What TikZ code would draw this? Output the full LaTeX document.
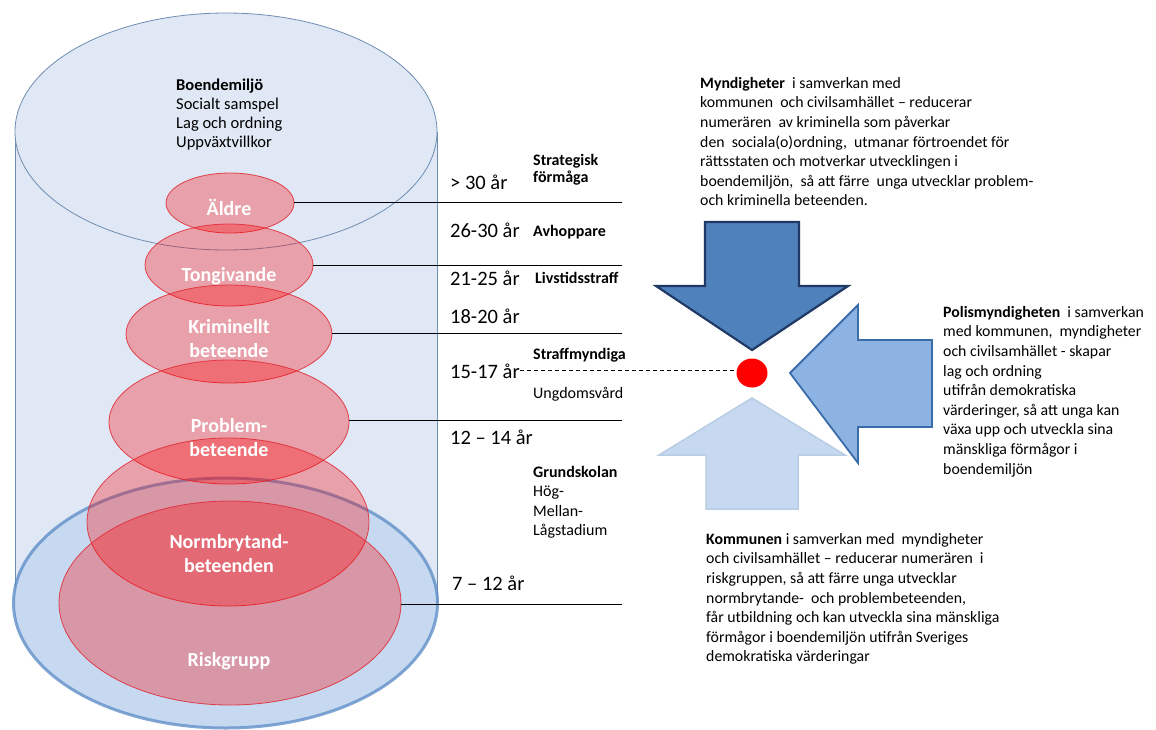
\documentclass[tikz,border=0pt]{standalone}
\usepackage{fontspec}
\setmainfont{Carlito}
\usetikzlibrary{shapes.geometric}
\definecolor{cylfill}{HTML}{DFE8F4}
\definecolor{cyledge}{HTML}{6F8DB2}
\definecolor{botfill}{HTML}{C6D9F0}
\definecolor{botedge}{HTML}{5A8AC6}
\definecolor{rededge}{HTML}{E0303C}
\definecolor{darkarrow}{HTML}{4F81BD}
\definecolor{darkarrowedge}{HTML}{1F3864}
\definecolor{midarrow}{HTML}{8DB3E2}
\definecolor{midarrowedge}{HTML}{3A6BAA}
\definecolor{lightarrow}{HTML}{C6D9F1}
\definecolor{lightarrowedge}{HTML}{B8CCE4}
\begin{document}
\begin{tikzpicture}[x=1pt,y=-1pt,
  redell/.style={ellipse, inner sep=0pt, fill=red, fill opacity=0.3, draw=rededge, draw opacity=0.9, line width=0.8pt},
  redlbl/.style={anchor=north, inner sep=0pt, align=center, text=white, font=\bfseries\fontsize{20}{24}\selectfont},
  agelbl/.style={anchor=base west, inner sep=0pt, font=\fontsize{20.5}{22}\selectfont},
  sidelbl/.style={anchor=north west, inner sep=0pt, align=left, font=\fontsize{16}{17}\selectfont},
  para/.style={anchor=north west, inner sep=0pt, align=left, font=\fontsize{15.8}{19.6}\selectfont},
  conn/.style={black, line width=0.9pt},
  dconn/.style={black, line width=0.9pt, dash pattern=on 4pt off 3pt},
  bigarrow/.style={line join=miter}
]
\useasboundingbox (0,0) rectangle (1156,729);
\fill[white] (0,0) rectangle (1156,729);

% cylinder
\fill[cylfill] (15,131.5) rectangle (437,603);
\draw[cyledge, line width=0.9pt] (15,131.5) -- (15,603) (437,131.5) -- (437,603);
\filldraw[fill=botfill, draw=botedge, line width=3pt, draw opacity=0.75] (225.5,603) ellipse [x radius=212pt, y radius=125pt];
\filldraw[fill=cylfill, draw=cyledge, line width=0.8pt] (226,131.5) ellipse [x radius=211pt, y radius=118.5pt];

\node[para, font=\fontsize{16.5}{19}\selectfont] (boende) at (176,78) {\rule{0pt}{12pt}\textbf{Boendemiljö}\\Socialt samspel\\Lag och ordning\\Uppväxtvillkor};

% red ellipses
\node[redell, minimum width=128pt, minimum height=60pt] (aldre) at (230,203) {};
\node[redell, minimum width=168pt, minimum height=82pt] (tong) at (229,265) {};
\node[redell, minimum width=206pt, minimum height=98pt] (krim) at (229,334) {};
\node[redell, minimum width=240pt, minimum height=124pt] (probl) at (229,422) {};
\node[redell, minimum width=282pt, minimum height=168pt] (norm) at (228,522) {};
\node[redell, minimum width=342pt, minimum height=204pt] (risk) at (230,603) {};

\node[redlbl] (laldre) at (229,199) {\rule{0pt}{14pt}Äldre};
\node[redlbl] (ltong) at (229,267) {\rule{0pt}{14pt}Tongivande};
\node[redlbl] (lkrim) at (229,319) {\rule{0pt}{14pt}Kriminellt\\beteende};
\node[redlbl] (lprobl) at (229,418) {\rule{0pt}{14pt}Problem-\\beteende};
\node[redlbl] (lnorm) at (229,534) {\rule{0pt}{14pt}Normbrytand-\\beteenden};
\node[redlbl] (lrisk) at (229,652) {\rule{0pt}{14pt}Riskgrupp};

% age labels
\node[agelbl] (a30) at (450,189) {> 30 år};
\node[agelbl] (a2630) at (450,237) {26-30 år};
\node[agelbl] (a2125) at (450,285) {21-25 år};
\node[agelbl] (a1820) at (450,323) {18-20 år};
\node[agelbl] (a1517) at (450,378) {15-17 år};
\node[agelbl] (a1214) at (450,444) {12 – 14 år};
\node[agelbl] (a712) at (452,590) {7 – 12 år};

% side labels
\node[sidelbl] (strat) at (533,153) {\rule{0pt}{12pt}\textbf{Strategisk}\\\textbf{förmåga}};
\node[sidelbl] (avhopp) at (533,224) {\rule{0pt}{12pt}\textbf{Avhoppare}};
\node[sidelbl] (livs) at (535,271) {\rule{0pt}{12pt}\textbf{Livstidsstraff}};
\node[sidelbl] (straff) at (533,347) {\rule{0pt}{12pt}\textbf{Straffmyndiga}};
\node[sidelbl] (ungdom) at (533,386) {\rule{0pt}{12pt}Ungdomsvård};
\node[sidelbl, font=\fontsize{16}{19.5}\selectfont] (grund) at (533,465) {\rule{0pt}{12pt}\textbf{Grundskolan}\\Hög-\\Mellan-\\Lågstadium};

% connectors
\coordinate (e1) at (622,202);
\coordinate (e2) at (622,265);
\coordinate (e3) at (622,333);
\coordinate (e4) at (622,420);
\coordinate (e5) at (622,604);
\draw[conn] (aldre.east |- e1) -- (e1);
\draw[conn] (tong.east |- e2) -- (e2);
\draw[conn] (krim.east |- e3) -- (e3);
\draw[conn] (probl.east |- e4) -- (e4);
\draw[conn] (risk.east |- e5) -- (e5);

% arrows
\filldraw[bigarrow, fill=darkarrow, draw=darkarrowedge, line width=2.2pt]
  (705,222) -- (799,222) -- (799,286) -- (848,286) -- (752,350) -- (656,286) -- (705,286) -- cycle;
\filldraw[bigarrow, fill=midarrow, draw=midarrowedge, line width=1.8pt]
  (932,340) -- (932,427) -- (858,427) -- (858,463) -- (790,373) -- (858,305) -- (858,340) -- cycle;
\filldraw[bigarrow, fill=lightarrow, draw=lightarrowedge, line width=1.5pt]
  (706,509) -- (798,509) -- (798,455) -- (845,455) -- (752,398) -- (659,455) -- (706,455) -- cycle;

\node[ellipse, fill=red, inner sep=0pt, minimum width=31pt, minimum height=29pt] (dot) at (752,373) {};
\draw[dconn] (a1517.east) -- (a1517.east -| dot.west);

% paragraphs
\node[para] (mynd) at (700,76.5) {\rule{0pt}{11.5pt}\textbf{Myndigheter}\ \ i samverkan med\\
kommunen\ \ och civilsamhället – reducerar\\
numerären\ \ av kriminella som påverkar\\
den\ \ sociala(o)ordning,\ \ utmanar förtroendet för\\
rättsstaten och motverkar utvecklingen i\\
boendemiljön,\ \ så att färre\ \ unga utvecklar problem-\\
och kriminella beteenden.};

\node[para] (polis) at (943,305.5) {\rule{0pt}{11.5pt}\textbf{Polismyndigheten}\ \ i samverkan\\
med kommunen,\ \ myndigheter\\
och civilsamhället - skapar\\
lag och ordning\\
utifrån demokratiska\\
värderinger, så att unga kan\\
växa upp och utveckla sina\\
mänskliga förmågor i\\
boendemiljön};

\node[para] (kommun) at (706,532.5) {\rule{0pt}{11.5pt}\textbf{Kommunen} i samverkan med\ \ myndigheter\\
och civilsamhället – reducerar numerären\ \ i\\
riskgruppen, så att färre unga utvecklar\\
normbrytande-\ \ och problembeteenden,\\
får utbildning och kan utveckla sina mänskliga\\
förmågor i boendemiljön utifrån Sveriges\\
demokratiska värderingar};
\end{tikzpicture}
\end{document}
